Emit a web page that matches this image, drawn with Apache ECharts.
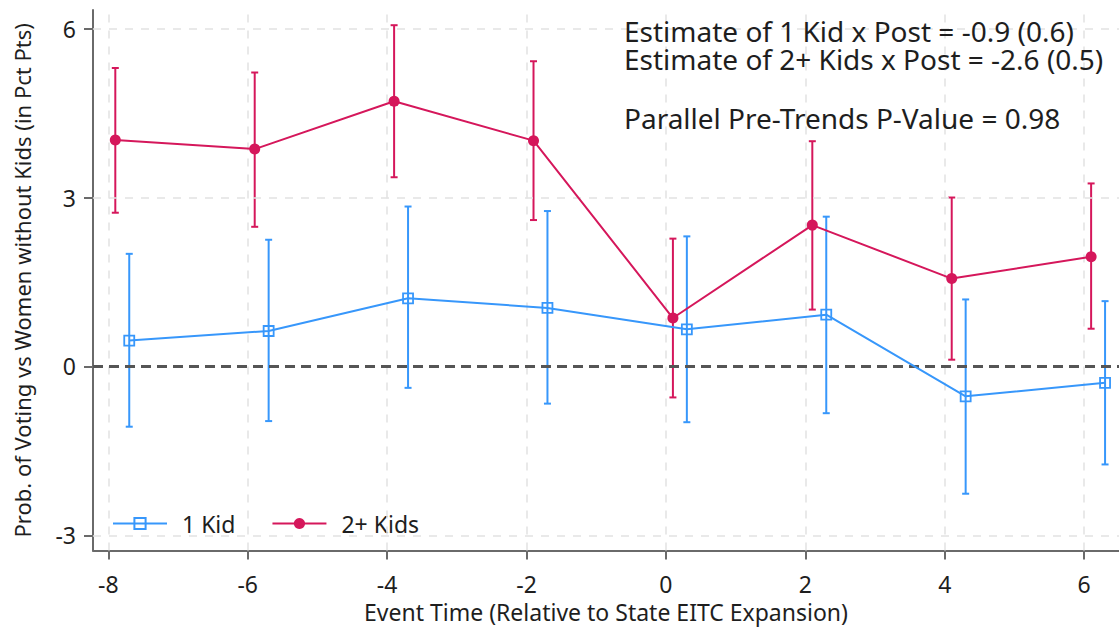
<!DOCTYPE html>
<html>
<head>
<meta charset="utf-8">
<script src="https://cdn.jsdelivr.net/npm/echarts@6/dist/echarts.min.js"></script>
<style>html,body{margin:0;padding:0;background:#fff}#c{width:1119px;height:628px}</style>
</head>
<body>
<div id="c"></div>
<script>
// ---- data ----
const xTicks = [-8, -6, -4, -2, 0, 2, 4, 6];
const yTicks = [-3, 0, 3, 6];
const oneKidX    = [-7.7, -5.7, -3.7, -1.7, 0.3, 2.3, 4.3, 6.3];
const oneKidEst  = [0.46, 0.63, 1.21, 1.04, 0.66, 0.92, -0.53, -0.29];
const oneKidLow  = [-1.07, -0.97, -0.38, -0.66, -0.99, -0.83, -2.26, -1.74];
const oneKidHigh = [2.00, 2.25, 2.84, 2.76, 2.31, 2.66, 1.19, 1.16];
const twoKidsX    = [-7.9, -5.9, -3.9, -1.9, 0.1, 2.1, 4.1, 6.1];
const twoKidsEst  = [4.02, 3.86, 4.71, 4.01, 0.86, 2.51, 1.56, 1.95];
const twoKidsLow  = [2.73, 2.48, 3.36, 2.60, -0.55, 1.01, 0.12, 0.67];
const twoKidsHigh = [5.30, 5.22, 6.06, 5.42, 2.27, 4.00, 3.00, 3.25];
const estimateLine1 = 'Estimate of 1 Kid x Post = -0.9 (0.6)';
const estimateLine2 = 'Estimate of 2+ Kids x Post = -2.6 (0.5)';
const pValueLine = 'Parallel Pre-Trends P-Value = 0.98';
const xTitle = 'Event Time (Relative to State EITC Expansion)';
const yTitle = 'Prob. of Voting vs Women without Kids (in Pct Pts)';

const BLUE = '#3797fb';
const RED = '#d5175b';
const FONT = 'Noto Sans';
const TXT = '#1e1e1e';

function errorBars(xs, lo, hi, color) {
  return {
    type: 'custom',
    z: 3,
    silent: true,
    encode: { x: 0, y: [1, 2] },
    data: xs.map((x, i) => [x, lo[i], hi[i]]),
    renderItem: function (params, api) {
      const top = api.coord([api.value(0), api.value(2)]);
      const bot = api.coord([api.value(0), api.value(1)]);
      const w = 3.5;
      const st = { stroke: color, lineWidth: 2, fill: null };
      return {
        type: 'group',
        children: [
          { type: 'line', shape: { x1: top[0], y1: top[1], x2: bot[0], y2: bot[1] }, style: st },
          { type: 'line', shape: { x1: top[0] - w, y1: top[1], x2: top[0] + w, y2: top[1] }, style: st },
          { type: 'line', shape: { x1: bot[0] - w, y1: bot[1], x2: bot[0] + w, y2: bot[1] }, style: st }
        ]
      };
    }
  };
}

const gridStyle = { color: '#e2e2e2', width: 1.5, type: [8, 8] };
const gridMarks = xTicks.map(v => ({ xAxis: v, lineStyle: gridStyle }))
  .concat(yTicks.filter(v => v !== 0).map(v => ({ yAxis: v, lineStyle: gridStyle })))
  .concat([{ yAxis: 0, lineStyle: { color: '#555555', width: 3, type: [10, 6] } }]);

const annoStyle = { fontFamily: FONT, fontSize: 28, fontWeight: 'normal', color: TXT, lineHeight: 24 };

const chart = echarts.init(document.getElementById('c'), null, { renderer: 'svg' });
chart.setOption({
  animation: false,
  backgroundColor: '#ffffff',
  textStyle: { fontFamily: FONT },
  grid: { left: 93, right: 0, top: 10, bottom: 72 },
  title: [
    { text: estimateLine1, left: 619, top: 14, padding: 5, textStyle: annoStyle },
    { text: estimateLine2, left: 619, top: 42, padding: 5, textStyle: annoStyle },
    { text: pValueLine, left: 619, top: 101, padding: 5, textStyle: annoStyle }
  ],
  legend: {
    data: ['1 Kid', '2+ Kids'],
    left: 95, top: 497,
    padding: [15, 14, 14, 17],
    backgroundColor: '#ffffff',
    itemWidth: 54, itemHeight: 14, itemGap: 36,
    textStyle: { fontFamily: FONT, fontSize: 23, color: TXT, padding: [0, 0, 0, 10] }
  },
  xAxis: {
    type: 'value', min: -8.22, max: 6.5,
    name: xTitle, nameLocation: 'middle', nameGap: 47,
    nameTextStyle: { fontFamily: FONT, fontSize: 23, color: TXT, lineHeight: 20 },
    axisLine: { show: true, onZero: false, lineStyle: { color: '#6a6a6a', width: 2 } },
    axisTick: { show: true, length: 9, customValues: xTicks, lineStyle: { color: '#6a6a6a', width: 2 } },
    axisLabel: { customValues: xTicks, margin: 25, lineHeight: 16, fontFamily: FONT, fontSize: 23, color: TXT },
    splitLine: { show: false }
  },
  yAxis: {
    type: 'value', min: -3.27, max: 6.33,
    name: yTitle, nameLocation: 'middle', nameGap: 60,
    nameTextStyle: { fontFamily: FONT, fontSize: 22, color: TXT },
    axisLine: { show: true, onZero: false, lineStyle: { color: '#6a6a6a', width: 2 } },
    axisTick: { show: true, length: 9, customValues: yTicks, lineStyle: { color: '#6a6a6a', width: 2 } },
    axisLabel: { customValues: yTicks, margin: 17, fontFamily: FONT, fontSize: 23, color: TXT },
    splitLine: { show: false }
  },
  series: [
    {
      type: 'line', name: 'grid', data: [], z: 1, silent: true,
      markLine: { silent: true, symbol: 'none', label: { show: false }, animation: false, data: gridMarks }
    },
    errorBars(twoKidsX, twoKidsLow, twoKidsHigh, RED),
    errorBars(oneKidX, oneKidLow, oneKidHigh, BLUE),
    {
      type: 'line', name: '1 Kid', z: 5,
      data: oneKidX.map((x, i) => [x, oneKidEst[i]]),
      symbol: 'rect', symbolSize: 10,
      lineStyle: { color: BLUE, width: 2 },
      itemStyle: { color: 'rgba(255,255,255,0)', borderColor: BLUE, borderWidth: 1.8 }
    },
    {
      type: 'line', name: '2+ Kids', z: 5,
      data: twoKidsX.map((x, i) => [x, twoKidsEst[i]]),
      symbol: 'circle', symbolSize: 11,
      lineStyle: { color: RED, width: 2 },
      itemStyle: { color: RED, borderColor: RED, borderWidth: 0 }
    }
  ]
});
</script>
</body>
</html>
